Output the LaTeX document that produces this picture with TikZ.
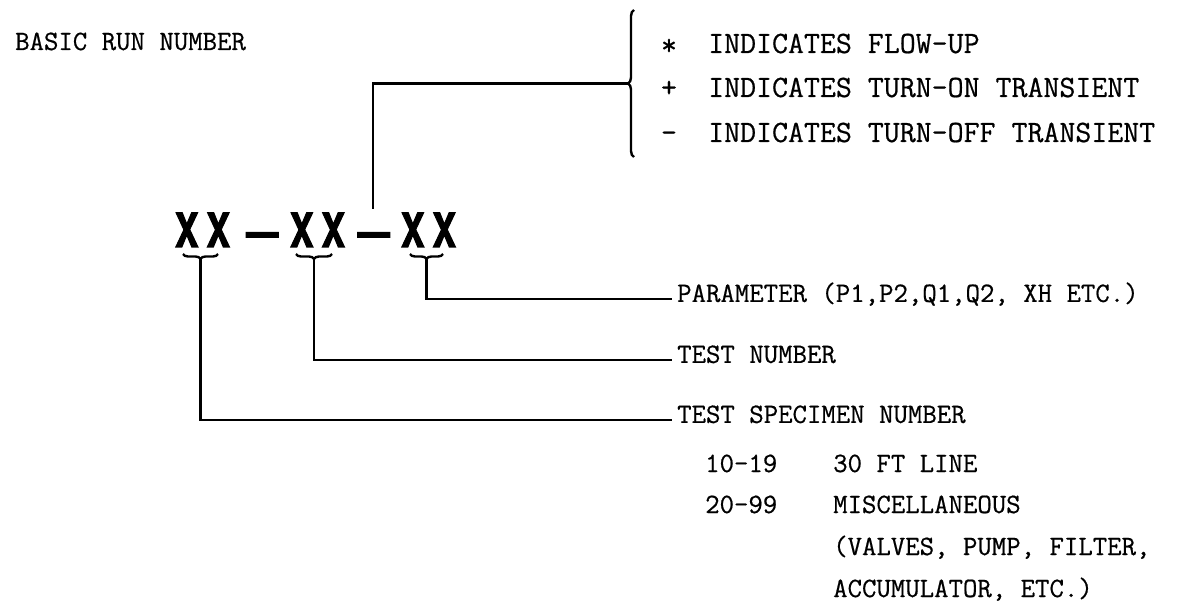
\documentclass[tikz,border=0pt]{standalone}
\usepackage{fontspec}
\newfontfamily\tw[FakeBold=0.6]{Latin Modern Mono}
\newfontfamily\xxfont[BoldFeatures={FakeBold=2.5}]{TeX Gyre Heros}
\usetikzlibrary{decorations.pathreplacing}
\tikzset{
  conn/.style={line width=2.6pt},
  lbl/.style={font=\tw\fontsize{28}{28}\selectfont, inner sep=0pt, anchor=base west},
  clbl/.style={font=\tw\fontsize{28}{28}\selectfont, inner ysep=0pt, inner xsep=5pt, anchor=west, text height=0.58em, text depth=0pt},
  biglbl/.style={font=\tw\fontsize{31}{31}\selectfont, inner sep=0pt, anchor=base west},
  sym/.style={font=\tw\fontsize{31}{31}\selectfont, inner sep=0pt, anchor=base},
  xx/.style={font=\xxfont\bfseries\fontsize{47}{47}\selectfont, inner sep=0pt, anchor=base},
  bigbrace/.style={decorate, decoration={brace, amplitude=6pt}, line width=2.4pt},
  smallbrace/.style={decorate, decoration={brace, amplitude=5pt}, line width=2.4pt},
}
\begin{document}
\begin{tikzpicture}[x=1pt, y=-1pt]
\useasboundingbox (0,0) rectangle (1189,612);

% title
\node[lbl] (title) at (15,50) {BASIC RUN NUMBER};

% upper right legend
\node[sym] (s1) at (669,55) {*};
\node[sym] (s2) at (669,97) {+};
\node[sym] (s3) at (669,142) {-};
\node[biglbl] (l1) at (708,53) {INDICATES FLOW-UP};
\node[biglbl] (l2) at (708,97) {INDICATES TURN-ON TRANSIENT};
\node[biglbl] (l3) at (708,142) {INDICATES TURN-OFF TRANSIENT};
\draw[bigbrace] (634,157) -- (634,10);
\coordinate (bt) at (628,83.5);

% run number
\node[xx] (g1) at (202.5,247) {\scalebox{0.75}[1]{X}\hspace{8pt}\scalebox{0.75}[1]{X}};
\node[xx] (dash1) at (262.5,247) {\scalebox{1.2}[1]{–}};
\node[xx] (g2) at (317.5,247) {\scalebox{0.75}[1]{X}\hspace{8pt}\scalebox{0.75}[1]{X}};
\node[xx] (dash2) at (374,247) {\scalebox{1.2}[1]{–}};
\node[xx] (g3) at (428.5,247) {\scalebox{0.75}[1]{X}\hspace{8pt}\scalebox{0.75}[1]{X}};

\coordinate (d2top) at (373,209);
\draw[conn] (d2top) |- (bt);

% under braces
\draw[smallbrace] (218,254) -- (183,254);
\draw[smallbrace] (332,254) -- (296,254);
\draw[smallbrace] (443,254) -- (410,254);
\coordinate (u1) at (200.5,259);
\coordinate (u2) at (314,259);
\coordinate (u3) at (426.5,259);

% labels
\node[clbl] (par) at (672,299) {PARAMETER (P1,P2,Q1,Q2, XH ETC.)};
\node[clbl] (tn) at (672,360) {TEST NUMBER};
\node[clbl] (tsn) at (672,420) {TEST SPECIMEN NUMBER};

\draw[conn] (u3) |- (par.west);
\draw[conn] (u2) |- (tn.west);
\draw[conn] (u1) |- (tsn.west);

\node[lbl] (r1a) at (705,472) {10-19};
\node[lbl] (r1b) at (833,472) {30 FT LINE};
\node[lbl] (r2a) at (705,513) {20-99};
\node[lbl] (r2b) at (833,513) {MISCELLANEOUS};
\node[lbl] (r3) at (833,555) {(VALVES, PUMP, FILTER,};
\node[lbl] (r4) at (833,597) {ACCUMULATOR, ETC.)};
\end{tikzpicture}
\end{document}
